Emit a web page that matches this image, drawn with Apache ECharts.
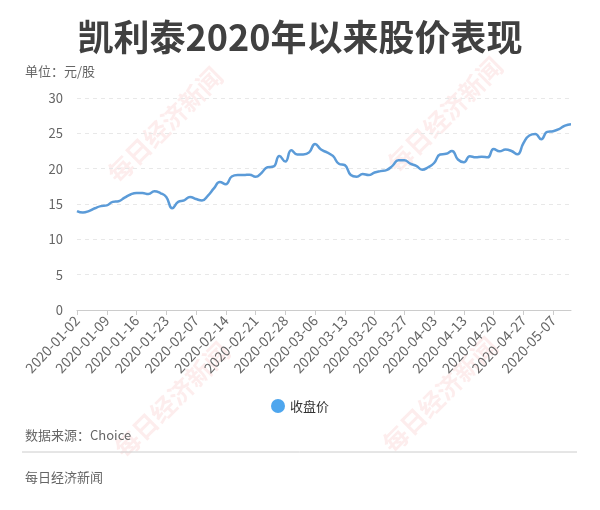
<!DOCTYPE html>
<html>
<head>
<meta charset="utf-8">
<script src="https://cdn.jsdelivr.net/npm/echarts@6/dist/echarts.min.js"></script>
<style>html,body{margin:0;padding:0;background:#fff}#c{width:600px;height:510px}</style>
</head>
<body>
<div id="c"></div>
<script>
var dates = [
'2020-01-02','2020-01-03','2020-01-06','2020-01-07','2020-01-08','2020-01-09','2020-01-10','2020-01-13','2020-01-14','2020-01-15','2020-01-16','2020-01-17','2020-01-20','2020-01-21','2020-01-22','2020-01-23',
'2020-02-03','2020-02-04','2020-02-05','2020-02-06','2020-02-07','2020-02-10','2020-02-11','2020-02-12','2020-02-13','2020-02-14','2020-02-17','2020-02-18','2020-02-19','2020-02-20','2020-02-21','2020-02-24','2020-02-25','2020-02-26','2020-02-27','2020-02-28',
'2020-03-02','2020-03-03','2020-03-04','2020-03-05','2020-03-06','2020-03-09','2020-03-10','2020-03-11','2020-03-12','2020-03-13','2020-03-16','2020-03-17','2020-03-18','2020-03-19','2020-03-20','2020-03-23','2020-03-24','2020-03-25','2020-03-26','2020-03-27','2020-03-30','2020-03-31',
'2020-04-01','2020-04-02','2020-04-03','2020-04-07','2020-04-08','2020-04-09','2020-04-10','2020-04-13','2020-04-14','2020-04-15','2020-04-16','2020-04-17','2020-04-20','2020-04-21','2020-04-22','2020-04-23','2020-04-24','2020-04-27','2020-04-28','2020-04-29','2020-04-30',
'2020-05-06','2020-05-07','2020-05-08','2020-05-11','2020-05-12'
];
var closePrice = [
14.0,13.8,14.0,14.4,14.7,14.8,15.3,15.4,15.9,16.35,16.55,16.55,16.4,16.8,16.55,16.0,
14.4,15.3,15.5,16.0,15.7,15.5,16.2,17.2,18.1,17.8,18.9,19.1,19.1,19.15,18.85,19.4,20.2,20.3,21.8,21.0,
22.6,22.0,22.0,22.3,23.5,22.7,22.3,21.8,20.7,20.5,19.1,18.85,19.25,19.1,19.45,19.65,19.8,20.4,21.2,21.2,20.7,20.4,
19.85,20.2,20.8,22.0,22.1,22.5,21.3,20.9,21.75,21.6,21.7,21.6,22.8,22.45,22.7,22.5,22.05,23.6,24.7,24.9,24.15,
25.2,25.3,25.6,26.1,26.3
];
var yTicks = {min: 0, max: 30, step: 5};
var titleText = '凯利泰2020年以来股价表现';
var unitText = '单位：元/股';
var sourceText = '数据来源：Choice';
var footerText = '每日经济新闻';
var seriesName = '收盘价';
var watermark = '每日经济新闻';

var FONT = '"Noto Sans CJK SC", "Noto Sans", sans-serif';
var chart = echarts.init(document.getElementById('c'), null, {renderer: 'canvas'});

function wm(x, y) {
  return {
    type: 'text', x: x, y: y, rotation: Math.PI / 4, z: 0, silent: true,
    style: {
      text: watermark, fill: 'rgba(235,90,90,0.11)', font: 'bold 25px ' + FONT,
      align: 'center', verticalAlign: 'middle'
    }
  };
}

chart.setOption({
  backgroundColor: '#fff',
  animation: false,
  textStyle: {fontFamily: FONT},
  title: {
    text: titleText, left: 'center', top: 14,
    textStyle: {fontSize: 36, fontWeight: 'bold', color: '#404040', fontFamily: FONT}
  },
  grid: {left: 77, right: 29, top: 98, bottom: 200, containLabel: false},
  legend: {
    data: [{name: seriesName, itemStyle: {color: '#4ea6ee'}}],
    top: 394, left: 'center', icon: 'circle', itemWidth: 14, itemHeight: 14, itemGap: 8,
    textStyle: {fontSize: 13, color: '#333', fontFamily: FONT}
  },
  xAxis: {
    type: 'category', data: dates, boundaryGap: false,
    axisLine: {lineStyle: {color: '#cccccc'}},
    axisTick: {show: true, interval: 4, lineStyle: {color: '#cccccc'}},
    axisLabel: {rotate: 47, interval: 4, fontSize: 14, color: '#666', margin: 8, fontFamily: FONT},
    splitLine: {show: false}
  },
  yAxis: {
    type: 'value', min: yTicks.min, max: yTicks.max, interval: yTicks.step,
    axisLine: {show: false}, axisTick: {show: false},
    axisLabel: {fontSize: 13, color: '#666', margin: 14, fontFamily: FONT},
    splitLine: {lineStyle: {type: [4, 4], color: '#e8e8e8'}}
  },
  series: [{
    name: seriesName, type: 'line', data: closePrice, smooth: true, showSymbol: false,
    lineStyle: {color: '#5b9bd8', width: 2.5}, itemStyle: {color: '#5b9bd8'}, z: 3
  }],
  graphic: [
    wm(165, 125), wm(445, 115), wm(172, 400), wm(440, 395),
    {type: 'text', left: 25, top: 65, style: {text: unitText, fill: '#666', font: '13px ' + FONT}},
    {type: 'text', left: 25, top: 429, style: {text: sourceText, fill: '#666', font: '13px ' + FONT}},
    {type: 'line', shape: {x1: 22, y1: 452, x2: 577, y2: 452}, style: {stroke: '#cccccc', lineWidth: 1}},
    {type: 'text', left: 25, top: 471, style: {text: footerText, fill: '#666', font: '13px ' + FONT}}
  ]
});
</script>
</body>
</html>
